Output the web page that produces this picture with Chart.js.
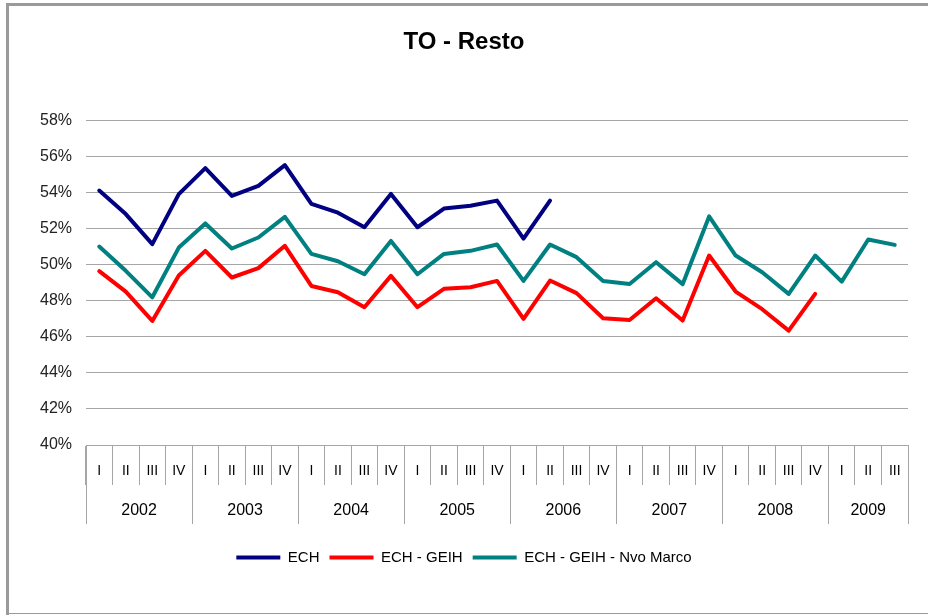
<!DOCTYPE html>
<html>
<head>
<meta charset="utf-8">
<script src="https://cdn.jsdelivr.net/npm/chart.js@4/dist/chart.umd.min.js"></script>
<style>
  html, body { margin: 0; padding: 0; background: #fff; }
  #wrap { width: 928px; height: 615px; }
</style>
</head>
<body>
<div id="wrap"><canvas id="c" width="928" height="615"></canvas></div>
<script>
const years = ['2002', '2003', '2004', '2005', '2006', '2007', '2008', '2009'];
const quartersPerYear = [4, 4, 4, 4, 4, 4, 4, 3];
const quarterNames = ['I', 'II', 'III', 'IV'];
const quarters = [];
quartersPerYear.forEach(n => { for (let q = 0; q < n; q++) quarters.push(quarterNames[q]); });

const ech = [54.13, 52.82, 51.15, 53.93, 55.37, 53.83, 54.39, 55.54, 53.39, 52.90,
  52.09, 53.94, 52.09, 53.13, 53.28, 53.57, 51.46, 53.57,
  null, null, null, null, null, null, null, null, null, null, null, null, null];
const echGeih = [49.65, 48.52, 46.89, 49.41, 50.78, 49.30, 49.82, 51.06, 48.83, 48.48,
  47.65, 49.39, 47.65, 48.67, 48.76, 49.11, 47.00, 49.13, 48.43, 47.04,
  46.94, 48.15, 46.91, 50.52, 48.52, 47.54, 46.35, 48.39, null, null, null];
const echGeihNvo = [51.02, 49.67, 48.20, 50.96, 52.30, 50.91, 51.52, 52.67, 50.61, 50.20,
  49.48, 51.33, 49.48, 50.61, 50.78, 51.13, 49.11, 51.13, 50.43, 49.11,
  48.94, 50.15, 48.93, 52.69, 50.52, 49.59, 48.39, 50.52, 49.07, 51.41, 51.11];
const yTicks = { min: 40, max: 58, step: 2 };

const FONT = "'Liberation Sans', Arial, sans-serif";
const GRID = '#a6a6a6';

const framePlugin = {
  id: 'frame',
  beforeDraw(chart) {
    const ctx = chart.ctx;
    ctx.save();
    ctx.fillStyle = '#fff';
    ctx.fillRect(0, 0, chart.width, chart.height);
    ctx.fillStyle = '#9a9a9a';
    ctx.fillRect(6, 3, 3, chart.height - 3);
    ctx.fillRect(6, 3, chart.width - 6, 3);
    ctx.fillRect(6, chart.height - 2, chart.width - 6, 1);
    ctx.restore();
  }
};

const yearPlugin = {
  id: 'years',
  afterDraw(chart) {
    const x = chart.scales.x;
    const ctx = chart.ctx;
    const top = x.top;
    ctx.save();
    ctx.strokeStyle = GRID;
    ctx.lineWidth = 1;
    ctx.fillStyle = '#000';
    ctx.font = '16px ' + FONT;
    ctx.textAlign = 'center';
    ctx.textBaseline = 'middle';
    let start = 0;
    const bounds = [0];
    quartersPerYear.forEach(n => { start += n; bounds.push(start); });
    bounds.forEach(b => {
      const px = Math.round(x.getPixelForValue(b - 0.5)) + 0.5;
      ctx.beginPath();
      ctx.moveTo(px, top);
      ctx.lineTo(px, top + 79);
      ctx.stroke();
    });
    for (let i = 0; i < years.length; i++) {
      const a = x.getPixelForValue(bounds[i] - 0.5);
      const b = x.getPixelForValue(bounds[i + 1] - 0.5);
      ctx.fillText(years[i], (a + b) / 2, top + 66);
    }
    ctx.restore();
  }
};

function series(label, data, color) {
  return {
    label, data,
    borderColor: color, backgroundColor: color,
    pointBorderColor: color, pointBackgroundColor: color,
    pointBorderWidth: 4, pointRadius: 0, pointHoverRadius: 0,
    borderWidth: 4
  };
}

new Chart(document.getElementById('c'), {
  type: 'line',
  data: {
    labels: quarters,
    datasets: [
      series('ECH', ech, '#000080'),
      series('ECH - GEIH', echGeih, '#ff0000'),
      series('ECH - GEIH - Nvo Marco', echGeihNvo, '#008080')
    ]
  },
  options: {
    responsive: false,
    animation: false,
    devicePixelRatio: 1,
    layout: { padding: { left: 20, right: 20, top: 0, bottom: 40 } },
    elements: {
      line: { borderWidth: 4, tension: 0, borderCapStyle: 'round', borderJoinStyle: 'round', fill: false },
      point: { radius: 0, hoverRadius: 0 }
    },
    plugins: {
      title: {
        display: true,
        text: 'TO - Resto',
        color: '#000',
        font: { family: FONT, size: 24, weight: 'bold' },
        padding: { top: 28, bottom: 64 }
      },
      legend: {
        position: 'bottom',
        labels: {
          color: '#000',
          font: { family: FONT, size: 15 },
          usePointStyle: true,
          pointStyle: 'line',
          pointStyleWidth: 44,
          padding: 10,
          boxHeight: 15
        }
      },
      tooltip: { enabled: false }
    },
    scales: {
      x: {
        offset: true,
        afterFit(scale) { scale.height = 95; },
        grid: {
          offset: true,
          drawOnChartArea: false,
          drawTicks: true,
          tickLength: 40,
          color: GRID
        },
        border: { display: true, color: GRID },
        ticks: {
          color: '#000',
          font: { family: FONT, size: 14 },
          padding: -22,
          maxRotation: 0,
          autoSkip: false
        }
      },
      y: {
        min: yTicks.min,
        max: yTicks.max,
        afterFit(scale) { scale.width = 66; },
        grid: { color: GRID, drawTicks: false, lineWidth: 1 },
        border: { display: false },
        ticks: {
          stepSize: yTicks.step,
          padding: 14,
          color: '#222',
          font: { family: FONT, size: 16 },
          callback: v => v + '%'
        }
      }
    }
  },
  plugins: [framePlugin, yearPlugin]
});
</script>
</body>
</html>
